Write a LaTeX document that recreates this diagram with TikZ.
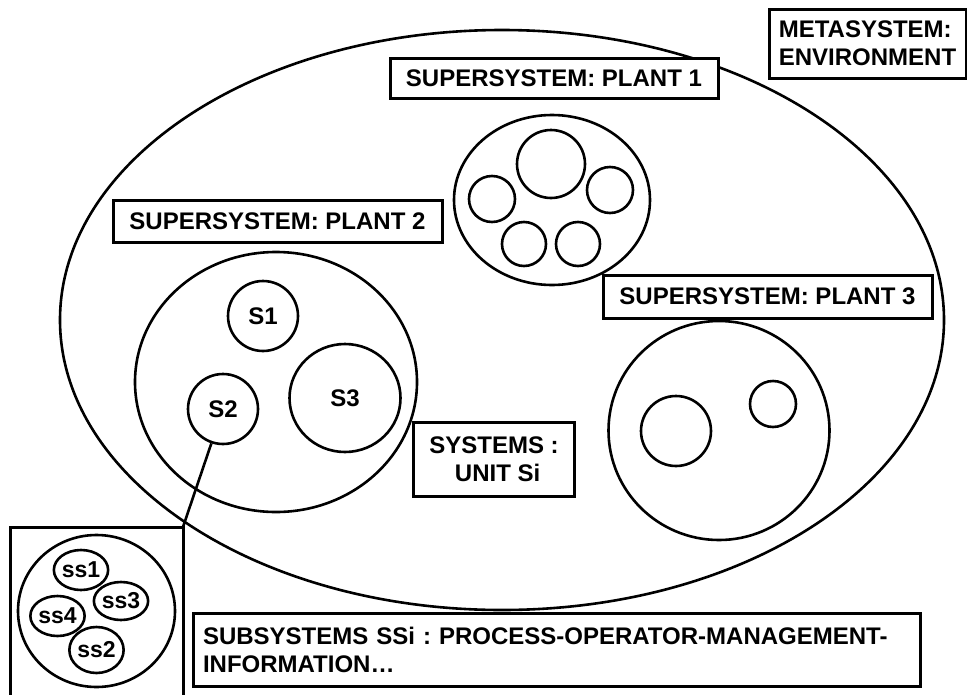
\documentclass[tikz,border=0pt]{standalone}
\usepackage{fontspec}
\setmainfont{Liberation Sans}
\usetikzlibrary{shapes.geometric}
\tikzset{
  lbl/.style={draw, fill=white, line width=3pt, font=\bfseries\fontsize{24}{28}\selectfont, inner sep=0pt},
  ring/.style={draw, ellipse, line width=2.6pt, inner sep=0pt},
  ringlbl/.style={ring, font=\bfseries\fontsize{24}{29}\selectfont},
  smalllbl/.style={ring, font=\bfseries\fontsize{23}{27}\selectfont},
  conn/.style={line width=2.6pt}
}
\begin{document}
\frenchspacing
\begin{tikzpicture}[x=1pt,y=-1pt]
\useasboundingbox (0,0) rectangle (967,694);
% metasystem boundary
\node[ring, minimum width=884, minimum height=580] (env) at (502,320) {};
% plant 1
\node[ring, minimum width=196, minimum height=170] (p1) at (552,200) {};
\node[ring, minimum size=68] (p1a) at (551,164) {};
\node[ring, minimum size=46] (p1b) at (492,199) {};
\node[ring, minimum size=44] (p1c) at (524,244) {};
\node[ring, minimum size=44] (p1d) at (578,244) {};
\node[ring, minimum size=46] (p1e) at (610,190) {};
% plant 2
\node[ring, minimum width=282, minimum height=260] (p2) at (276,382) {};
\node[ringlbl, minimum size=70] (s1) at (263,316) {S1};
\node[ringlbl, minimum size=70] (s2) at (223,409) {S2};
\node[ringlbl, minimum width=111, minimum height=108] (s3) at (345,398) {S3};
% plant 3
\node[ring, minimum width=221, minimum height=219] (p3) at (719,430.5) {};
\node[ring, minimum size=70] (p3a) at (676,431) {};
\node[ring, minimum size=46] (p3b) at (773,404) {};
% subsystems
\coordinate (subsw) at (10,700);
\coordinate (subnw) at (10,527);
\coordinate (subne) at (183,527);
\coordinate (subse) at (183,700);
\draw[line width=3pt] (subsw) -- (subnw) -- (subne) -- (subse);
\node[ring, minimum width=157, minimum height=152] (sub) at (96.5,611) {};
\node[smalllbl, minimum width=48, minimum height=40] (ss1) at (81,570) {ss1};
\node[smalllbl, minimum width=48, minimum height=38] (ss3) at (121,601) {ss3};
\node[smalllbl, minimum width=48, minimum height=40] (ss4) at (57.5,616) {ss4};
\node[smalllbl, minimum width=48, minimum height=46] (ss2) at (96.5,650) {ss2};
% connector
\draw[conn] (s2) -- (subne);
% labels
\node[lbl, minimum width=197, minimum height=69, align=left] (meta) at (867.5,43.5) {METASYSTEM:\\ENVIRONMENT};
\node[lbl, minimum width=328, minimum height=40] (p1lbl) at (554,78) {SUPERSYSTEM: PLANT 1};
\node[lbl, minimum width=329, minimum height=42] (p2lbl) at (277.5,221) {SUPERSYSTEM: PLANT 2};
\node[lbl, minimum width=329, minimum height=43] (p3lbl) at (767.5,296.5) {SUPERSYSTEM: PLANT 3};
\node[lbl, minimum width=161, minimum height=74, align=center] (syslbl) at (494,459) {SYSTEMS :\\\hspace*{0.3em}UNIT Si};
\node[lbl, minimum width=727, minimum height=73, text width=707, align=left] (sublbl) at (556.5,649.5) {SUBSYSTEMS SSi : PROCESS-OPERATOR-MANAGEMENT-\\INFORMATION\ldots};
\end{tikzpicture}
\end{document}
